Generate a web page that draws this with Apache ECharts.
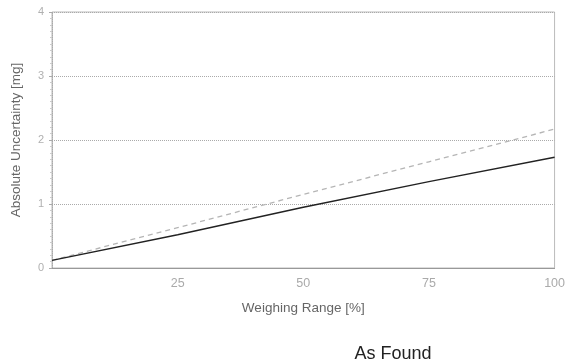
<!DOCTYPE html>
<html>
<head>
<meta charset="utf-8">
<script src="https://cdn.jsdelivr.net/npm/echarts@6/dist/echarts.min.js"></script>
<style>
  html, body { margin: 0; padding: 0; background: #fff; }
  #chart { width: 568px; height: 364px; }
</style>
</head>
<body>
<div id="chart"></div>
<script>
// Weighing range [%] and absolute uncertainty [mg]
const weighingRange = [0, 25, 50, 75, 100];
const uncertaintyLower = [0.12, 0.52, 0.95, 1.35, 1.73];
const uncertaintyUpper = [0.12, 0.63, 1.15, 1.66, 2.17];
const yTicks = [0, 1, 2, 3, 4];

const chart = echarts.init(document.getElementById('chart'));
const font = 'Liberation Sans, Arial, sans-serif';

chart.setOption({
  animation: false,
  backgroundColor: '#ffffff',
  title: {
    text: 'As Found',
    left: 388,
    top: 340,
    textAlign: 'center',
    textStyle: { fontFamily: font, fontSize: 18, fontWeight: 'normal', color: '#222' }
  },
  grid: { left: 52, right: 12, top: 12, bottom: 96, show: true, borderColor: '#bbb', borderWidth: 1 },
  xAxis: {
    type: 'value',
    min: 0, max: 100, interval: 25,
    name: 'Weighing Range [%]',
    nameLocation: 'middle',
    nameGap: 33,
    nameTextStyle: { fontFamily: font, fontSize: 13.5, color: '#666' },
    axisLine: { lineStyle: { color: '#999' } },
    axisTick: { show: false },
    splitLine: { show: false },
    axisLabel: {
      fontFamily: font, fontSize: 12.5, color: '#aaa', margin: 9,
      formatter: v => (v === 0 ? '' : String(v))
    }
  },
  yAxis: {
    type: 'value',
    min: yTicks[0], max: yTicks[yTicks.length - 1], interval: 1,
    name: 'Absolute Uncertainty [mg]',
    nameLocation: 'middle',
    nameGap: 29,
    nameTextStyle: { fontFamily: font, fontSize: 13.5, color: '#666' },
    axisLine: { show: true, lineStyle: { color: '#aaa', type: 'dotted' } },
    axisTick: { show: true, length: 3, lineStyle: { color: '#aaa' } },
    minorTick: { show: true, splitNumber: 10, length: 2, lineStyle: { color: '#ccc' } },
    splitLine: { show: true, lineStyle: { color: '#aaa', type: 'dotted', width: 1 } },
    axisLabel: { fontFamily: font, fontSize: 11, color: '#b0b0b0', margin: 8 }
  },
  series: [
    {
      type: 'line',
      data: weighingRange.map((x, i) => [x, uncertaintyUpper[i]]),
      showSymbol: false,
      lineStyle: { color: '#b5b5b5', width: 1.3, type: [5, 4] }
    },
    {
      type: 'line',
      data: weighingRange.map((x, i) => [x, uncertaintyLower[i]]),
      showSymbol: false,
      lineStyle: { color: '#222', width: 1.4 }
    }
  ]
});
</script>
</body>
</html>
